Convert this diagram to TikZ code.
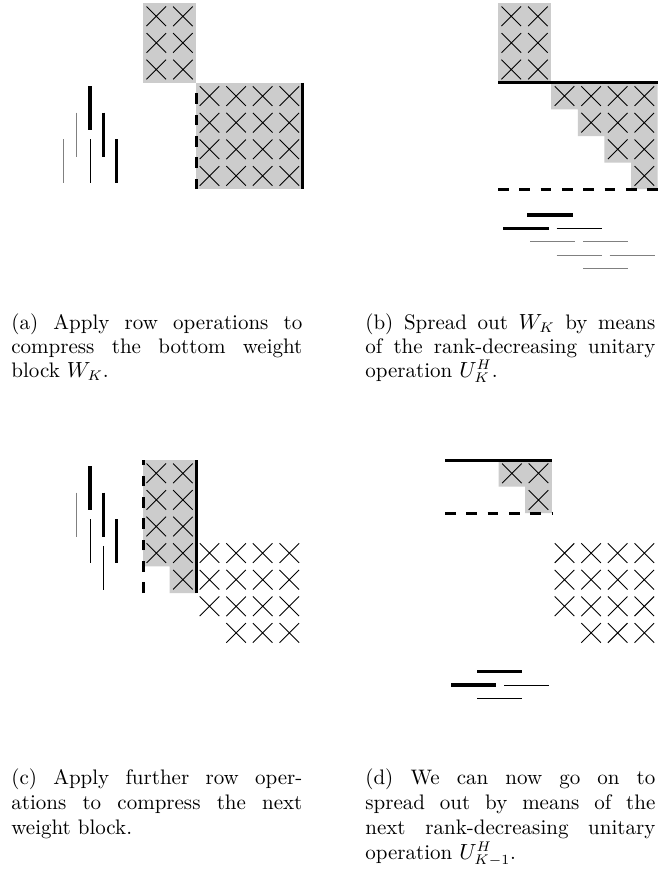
\documentclass[tikz,border=0pt]{standalone}
\begin{document}
\begin{tikzpicture}[x=0.5pt,y=-0.5pt,
  cellshade/.style={fill=black!20,draw=none},
  xmark/.style={line width=0.45pt},
  heavy/.style={line width=1.5pt},
  heavydash/.style={line width=1.5pt,dash pattern=on 5.33pt off 5.33pt},
  barthick/.style={line width=1.6pt},
  barthin/.style={line width=0.5pt},
  bargray/.style={line width=0.5pt,black!50},
  captext/.style={inner sep=0pt,anchor=base west,font=\fontsize{10.5}{12}\selectfont},
  xcross/.pic={\draw[xmark] (-9.8,-9.8) -- (9.8,9.8) (-9.8,9.8) -- (9.8,-9.8);}
]
\useasboundingbox (0,0) rectangle (660,873);
\fill[white] (0,0) rectangle (660,873);

% ---------------- (a) row operations on the bottom block ----------------
\fill[cellshade] (143,3) rectangle (196.2,82.8);
\fill[cellshade] (196.2,82.8) rectangle (302.6,189.2);
\foreach \x in {156.3,182.9} \foreach \y in {16.3,42.9,69.5} \pic at (\x,\y) {xcross};
\foreach \x in {209.5,236.1,262.7,289.3} \foreach \y in {96.1,122.7,149.3,175.9} \pic at (\x,\y) {xcross};
\draw[heavydash] (196.2,189.2) -- (196.2,82.8);
\draw[heavy] (302.6,82.8) -- (302.6,189.2);
% vertical bars
\draw[barthick] (90,86) -- (90,130);
\draw[bargray] (76.7,112.6) -- (76.7,156.6);
\draw[barthick] (103.3,112.6) -- (103.3,156.6);
\draw[bargray] (63.4,139.2) -- (63.4,183.2);
\draw[barthin] (90,139.2) -- (90,183.2);
\draw[barthick] (116.7,139.2) -- (116.7,183.2);

% ---------------- (b) spreading out W_K ----------------
\fill[cellshade] (498,3) rectangle (551.2,82.8);
\fill[cellshade] (551.2,82.8) -- (657.6,82.8) -- (657.6,189.2) -- (631,189.2) -- (631,162.6)
  -- (604.4,162.6) -- (604.4,136) -- (577.8,136) -- (577.8,109.4) -- (551.2,109.4) -- cycle;
\foreach \x in {511.3,537.9} \foreach \y in {16.3,42.9,69.5} \pic at (\x,\y) {xcross};
\foreach \x in {564.5,591.1,617.7,644.3} \pic at (\x,96.1) {xcross};
\foreach \x in {591.1,617.7,644.3} \pic at (\x,122.7) {xcross};
\foreach \x in {617.7,644.3} \pic at (\x,149.3) {xcross};
\pic at (644.3,175.9) {xcross};
\draw[heavy] (498,82.8) -- (657.6,82.8);
\draw[heavydash] (498,189.2) -- (657.6,189.2);
% horizontal bars
\draw[barthick] (527.3,215) -- (572.7,215);
\draw[barthick] (503.3,228.3) -- (548.7,228.3);
\draw[barthin] (556.7,228.3) -- (602,228.3);
\draw[bargray] (530,241.3) -- (575,241.3);
\draw[bargray] (583.3,241.3) -- (628.3,241.3);
\draw[bargray] (556.7,255) -- (602,255);
\draw[bargray] (609.7,255) -- (654.7,255);
\draw[bargray] (583.3,268) -- (628.3,268);

% ---------------- (c) row operations on the next block ----------------
\fill[cellshade] (143,460) -- (196.2,460) -- (196.2,593) -- (169.6,593) -- (169.6,566.4) -- (143,566.4) -- cycle;
\foreach \x in {156.3,182.9} \foreach \y in {473.3,499.9,526.5,553.1} \pic at (\x,\y) {xcross};
\pic at (182.9,579.7) {xcross};
\foreach \x in {209.5,236.1,262.7,289.3} \foreach \y in {553.1,579.7,606.3} \pic at (\x,\y) {xcross};
\foreach \x in {236.1,262.7,289.3} \pic at (\x,632.9) {xcross};
\draw[heavydash] (143,593) -- (143,460);
\draw[heavy] (196.2,460) -- (196.2,593);
% vertical bars
\draw[barthick] (90,466) -- (90,510);
\draw[bargray] (76.7,492.6) -- (76.7,536.6);
\draw[barthick] (103.3,492.6) -- (103.3,536.6);
\draw[barthin] (90,519.2) -- (90,563.2);
\draw[barthick] (116.7,519.2) -- (116.7,563.2);
\draw[barthin] (103.3,545.8) -- (103.3,589.8);

% ---------------- (d) the next spreading step ----------------
\fill[cellshade] (498.6,460) -- (551.8,460) -- (551.8,513.2) -- (525.2,513.2) -- (525.2,486.6) -- (498.6,486.6) -- cycle;
\foreach \x in {511.9,538.5} \pic at (\x,473.3) {xcross};
\pic at (538.5,499.9) {xcross};
\draw[heavy] (445,460) -- (551.8,460);
\draw[heavydash] (445,513.2) -- (551.8,513.2);
\foreach \x in {564.5,591.1,617.7,644.3} \foreach \y in {553.1,579.7,606.3} \pic at (\x,\y) {xcross};
\foreach \x in {591.1,617.7,644.3} \pic at (\x,632.9) {xcross};
% horizontal bars
\draw[barthick] (477.3,671.7) -- (522.3,671.7);
\draw[barthick] (451,685) -- (496,685);
\draw[barthin] (504,685) -- (549,685);
\draw[barthin] (477.3,698.3) -- (522.3,698.3);

% ---------------- captions ----------------
\node[captext] (capa1) at (11,329) {\hbox to 145.5pt{(a) Apply row operations to}};
\node[captext] (capa2) at (11,353) {\hbox to 145.5pt{compress the bottom weight}};
\node[captext] (capa3) at (11,377) {block $W_K$.};

\node[captext] (capb1) at (365,329) {\hbox to 145pt{(b) Spread out $W_K$ by means}};
\node[captext] (capb2) at (365,353) {\hbox to 145pt{of the rank-decreasing unitary}};
\node[captext] (capb3) at (365,377) {operation $U_K^H$.};

\node[captext] (capc1) at (11,784) {\hbox to 145.5pt{(c) Apply further row oper-}};
\node[captext] (capc2) at (11,809) {\hbox to 145.5pt{ations to compress the next}};
\node[captext] (capc3) at (11,834) {weight block.};

\node[captext] (capd1) at (365,784) {\hbox to 145pt{(d) We can now go on to}};
\node[captext] (capd2) at (365,809) {\hbox to 145pt{spread out by means of the}};
\node[captext] (capd3) at (365,834) {\hbox to 145pt{next rank-decreasing unitary}};
\node[captext] (capd4) at (365,859) {operation $U_{K-1}^H$.};
\end{tikzpicture}
\end{document}
